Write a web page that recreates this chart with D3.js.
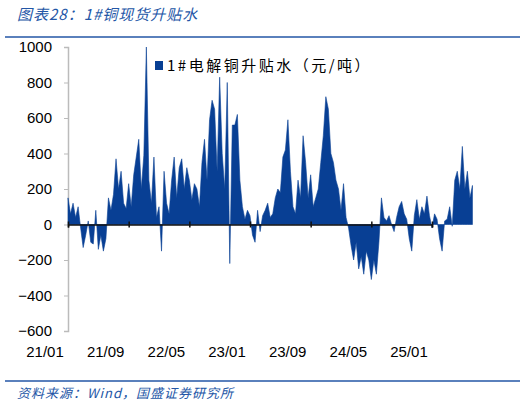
<!DOCTYPE html>
<html><head><meta charset="utf-8">
<script src="https://cdn.jsdelivr.net/npm/d3@7"></script>
<style>body{margin:0;background:#fff}</style>
</head><body><div id="chart"></div>
<script>
// three readings per month, starting 2021/01
var spread = [150,60,120, 40,100,-20, -130,-60,20, -100,-110,80, -140,-60,-150, -80,150,80,
  170,370,200, 300,120,90, 230,100,280, 380,480,200, 390,1000,250, 120,380,40,
  100,-150,300, 120,60,250, 380,150,320, 370,200,320, 250,140,230, 200,100,350,
  480,250,590, 700,650,300, 830,400,200, 800,-220,560, 560,620,250, 100,30,80,
  50,-60,-100, 80,-40,50, 80,120,40, 60,150,200, 180,380,420, 590,300,100,
  60,250,150, 500,350,150, 280,100,150, 200,350,500, 720,650,400, 350,250,200,
  80,230,40, -20,-120,-200, -100,-250,-180, -280,-150,-200, -310,-200,-280, -100,150,40,
  20,50,0, -40,40,100, 130,60,30, -80,-150,50, 140,30,100, 60,160,50,
  -20,60,30, -80,-150,20, 30,100,-10, 250,300,200, 440,200,300, 150,220];
var tickMonths = [0, 8, 16, 24, 32, 40, 48];
var tickLabels = ["21/01","21/09","22/05","23/01","23/09","24/05","25/01"];
var yTicks = [-600,-400,-200,0,200,400,600,800,1000];

var svg = d3.select("#chart").append("svg").attr("width", 525).attr("height", 406);
var blue = "#2356a6", fill = "#083f94";

svg.append("text").attr("x", 17).attr("y", 20).attr("fill", blue).style("letter-spacing", "1px")
  .style("font", "italic 15px 'Noto Sans CJK SC'").text("图表28：1#铜现货升贴水");
svg.append("line").attr("x1", 5).attr("x2", 520).attr("y1", 37).attr("y2", 37)
  .attr("stroke", blue).attr("stroke-width", 1.5);
svg.append("line").attr("x1", 5).attr("x2", 520).attr("y1", 381).attr("y2", 381)
  .attr("stroke", blue).attr("stroke-width", 1.5);
svg.append("text").attr("x", 17).attr("y", 398).attr("fill", blue).style("letter-spacing", "1px")
  .style("font", "italic 13px 'Noto Sans CJK SC'").text("资料来源：Wind，国盛证券研究所");

var x = d3.scaleLinear().domain([0, 48]).range([68, 432]);
var y = d3.scaleLinear().domain([-600, 1000]).range([331, 47]);

// y axis
var ya = svg.append("g").attr("transform", "translate(68,0)")
  .call(d3.axisLeft(y).tickValues(yTicks).tickSize(4).tickPadding(12).tickFormat(d3.format("d")));
ya.select(".domain").attr("stroke", "#bbb").attr("stroke-width", 1.5);
ya.selectAll(".tick line").attr("stroke", "#bbb");
ya.selectAll("text").style("font", "15px Arial, 'Liberation Sans'").attr("fill", "#000");

// area
var area = d3.area().x(function(d, i) { return x(i / 3); })
  .y0(y(0)).y1(function(d) { return y(d); });
svg.append("path").datum(spread).attr("d", area).attr("fill", fill).attr("stroke", fill).attr("stroke-width", 0.6);

// zero line with ticks
var xa = svg.append("g").attr("transform", "translate(0," + y(0) + ")")
  .call(d3.axisBottom(x).tickValues(tickMonths).tickSize(3).tickFormat(""));
xa.select(".domain").attr("stroke", "#111").attr("stroke-width", 1.5);
xa.selectAll(".tick line").attr("stroke", "#111").attr("stroke-width", 1.5).attr("y1", -3);

svg.selectAll(".xl").data(tickMonths).enter().append("text")
  .attr("x", function(d) { return x(d) - 23; }).attr("y", 357)
  .attr("text-anchor", "middle").style("font", "15px Arial, 'Liberation Sans'")
  .text(function(d, i) { return tickLabels[i]; });

// legend
svg.append("rect").attr("x", 155).attr("y", 61).attr("width", 8).attr("height", 9).attr("fill", fill);
svg.append("text").attr("x", 167).attr("y", 71).style("letter-spacing", "2.5px")
  .style("font", "15px 'Noto Sans CJK SC'").text("1#电解铜升贴水（元/吨）");
</script></body></html>
